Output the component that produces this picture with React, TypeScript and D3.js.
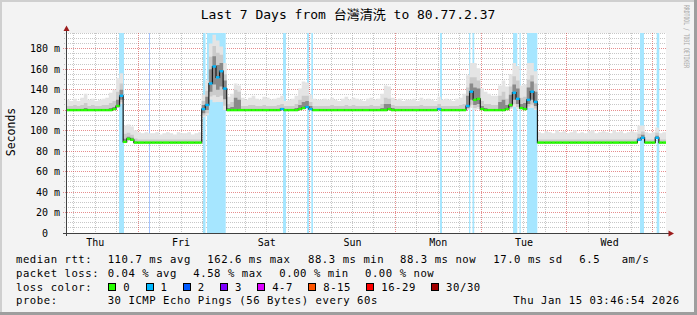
import React from 'react';
import * as d3 from 'd3';

// ---------------- data ----------------
// hourly samples over the 7 days, starting Thu Jan 8 03:46:54
const HOURS = 168;
const START_TO_MIDNIGHT = 3.7817; // hours after previous midnight at graph start
const Y_MAX = 195.3;

const dayLabels = ['Thu', 'Fri', 'Sat', 'Sun', 'Mon', 'Tue', 'Wed'];
const yMajorTicks = [20, 40, 60, 80, 100, 120, 140, 160, 180];
const yLabelTicks = [0, 20, 40, 60, 80, 100, 120, 140, 160, 180];
const yTickLabels = ['0\u00a0\u00a0', '20 m', '40 m', '60 m', '80 m', '100 m', '120 m', '140 m', '160 m', '180 m'];

// median rtt (ms)
const median = [
  120, 120, 120, 120, 120, 120, 120, 120, 120, 120, 120, 120, 120, 121, 124, 134, 89, 92, 91, 88.3, 88.3, 88.3, 88.3, 88.3,
  88.3, 88.3, 88.3, 88.3, 88.3, 88.3, 88.3, 88.3, 88.3, 88.3, 88.3, 88.3, 88.3, 88.3, 121, 125, 146, 162.6, 152, 158, 141, 120, 120, 120,
  120, 120, 120, 120, 120, 120, 120, 120, 120, 120, 120, 120, 121, 120, 120, 120, 120, 121, 122, 123, 121, 120, 120, 120,
  120, 120, 120, 120, 120, 120, 120, 120, 120, 120, 120, 120, 120, 120, 120, 120, 120, 120, 121, 120, 120, 120, 120, 120,
  120, 120, 120, 120, 120, 120, 120, 120, 121, 120, 120, 120, 120, 120, 120, 120, 124, 138, 130, 131, 121, 120, 120, 120,
  120, 120, 120, 121, 125, 137, 131, 122, 121, 130, 138, 128, 88.3, 88.3, 88.3, 88.3, 88.3, 88.3, 88.3, 88.3, 88.3, 88.3, 88.3, 88.3,
  88.3, 88.3, 88.3, 88.3, 88.3, 88.3, 88.3, 88.3, 88.3, 88.3, 88.3, 88.3, 88.3, 88.3, 88.3, 88.3, 91, 93, 88.3, 88.3, 88.3, 93, 88.3, 88.3,
];

// lost pings per sample (of 30)
const lossCount = [
  0, 0, 0, 0, 0, 0, 0, 0, 0, 0, 0, 0, 0, 0, 0, 1, 0, 0, 0, 0, 0, 0, 0, 0,
  0, 0, 0, 0, 0, 0, 0, 0, 0, 0, 0, 0, 0, 0, 1, 1, 1, 1, 1, 1, 1, 0, 0, 0,
  0, 0, 0, 0, 0, 0, 0, 0, 0, 0, 0, 0, 1, 0, 0, 0, 0, 0, 0, 1, 1, 0, 0, 0,
  0, 0, 0, 0, 0, 0, 0, 0, 0, 0, 0, 0, 0, 0, 0, 0, 0, 0, 0, 0, 0, 0, 0, 0,
  0, 0, 0, 0, 0, 0, 0, 0, 1, 0, 0, 0, 0, 0, 0, 0, 1, 1, 0, 0, 0, 0, 0, 0,
  0, 0, 0, 0, 0, 1, 1, 0, 0, 1, 1, 1, 0, 0, 0, 0, 0, 0, 0, 0, 0, 0, 0, 0,
  0, 0, 0, 0, 0, 0, 0, 0, 0, 0, 0, 0, 0, 0, 0, 0, 1, 1, 0, 0, 0, 1, 0, 0,
];

// smoke: spread above the median (ms) for the light, medium and dark layers
const smokeUp = [
  10, 9, 11, 9, 12, 16, 10, 11, 9, 10, 11, 12, 17, 19, 27, 22, 16, 14, 13, 12, 10, 9, 10, 9,
  9, 10, 8, 9, 10, 9, 8, 10, 9, 9, 10, 8, 9, 10, 14, 24, 39, 31, 36, 24, 25, 13, 16, 26,
  24, 12, 10, 12, 14, 11, 10, 13, 12, 10, 11, 12, 13, 9, 10, 11, 14, 20, 26, 24, 14, 11, 10, 10,
  11, 10, 12, 10, 9, 11, 13, 10, 12, 11, 10, 9, 11, 12, 10, 11, 16, 24, 22, 12, 10, 11, 9, 10,
  10, 11, 9, 12, 10, 11, 10, 9, 12, 10, 11, 10, 9, 11, 12, 16, 30, 28, 36, 30, 20, 18, 16, 14,
  14, 24, 29, 22, 30, 29, 32, 22, 24, 36, 28, 30, 10, 9, 11, 10, 9, 12, 10, 11, 9, 10, 12, 9,
  10, 9, 11, 12, 9, 10, 11, 10, 9, 12, 10, 11, 9, 10, 11, 10, 14, 12, 10, 9, 10, 10, 9, 10,
];
const smokeMid = [
  4, 4, 5, 4, 5, 7, 4, 5, 4, 4, 5, 5, 7, 8, 14, 12, 8, 6, 5, 4, 3, 3, 3, 3,
  3, 3, 3, 3, 3, 3, 3, 3, 3, 3, 3, 3, 3, 3, 8, 14, 26, 20, 24, 16, 14, 6, 8, 20,
  18, 4, 4, 5, 5, 4, 4, 5, 4, 4, 4, 5, 5, 4, 4, 4, 6, 9, 12, 11, 7, 4, 4, 4,
  4, 4, 5, 4, 4, 4, 5, 4, 5, 4, 4, 4, 4, 5, 4, 4, 6, 12, 10, 5, 4, 4, 4, 4,
  4, 4, 4, 5, 4, 4, 4, 4, 5, 4, 4, 4, 4, 4, 5, 6, 18, 14, 22, 18, 8, 6, 6, 5,
  5, 14, 18, 10, 18, 16, 18, 10, 12, 20, 16, 18, 3, 3, 3, 3, 3, 3, 3, 3, 3, 3, 3, 3,
  3, 3, 3, 3, 3, 3, 3, 3, 3, 3, 3, 3, 3, 3, 3, 3, 6, 6, 3, 3, 3, 5, 3, 3,
];
const smokeDark = [
  1, 1, 1, 1, 1, 2, 1, 1, 1, 1, 1, 1, 2, 2, 6, 6, 3, 2, 2, 1, 0, 0, 0, 0,
  0, 0, 0, 0, 0, 0, 0, 0, 0, 0, 0, 0, 0, 0, 4, 8, 14, 10, 12, 8, 8, 2, 3, 12,
  10, 1, 1, 1, 1, 1, 1, 1, 1, 1, 1, 1, 1, 1, 1, 1, 2, 4, 6, 6, 3, 1, 1, 1,
  1, 1, 1, 1, 1, 1, 1, 1, 1, 1, 1, 1, 1, 1, 1, 1, 2, 6, 5, 2, 1, 1, 1, 1,
  1, 1, 1, 1, 1, 1, 1, 1, 1, 1, 1, 1, 1, 1, 1, 1, 10, 8, 12, 10, 3, 2, 1, 1,
  1, 8, 10, 4, 10, 8, 10, 4, 6, 12, 10, 10, 0, 0, 0, 0, 0, 0, 0, 0, 0, 0, 0, 0,
  0, 0, 0, 0, 0, 0, 0, 0, 0, 0, 0, 0, 0, 0, 0, 0, 2, 3, 0, 0, 0, 2, 0, 0,
];
// smoke spread below the median (ms)
const smokeDown = [
  0.5, 0.5, 0.5, 0.5, 0.5, 0.5, 0.5, 0.5, 0.5, 0.5, 0.5, 0.5, 0.5, 0.5, 2, 8, 1, 1, 1, 0.5, 0.5, 0.5, 0.5, 0.5,
  0.5, 0.5, 0.5, 0.5, 0.5, 0.5, 0.5, 0.5, 0.5, 0.5, 0.5, 0.5, 0.5, 0.5, 8, 10, 16, 35, 24, 30, 21, 1, 0.5, 0.5,
  0.5, 0.5, 0.5, 0.5, 0.5, 0.5, 0.5, 0.5, 0.5, 0.5, 0.5, 0.5, 0.5, 0.5, 0.5, 0.5, 0.5, 0.5, 0.5, 0.5, 0.5, 0.5, 0.5, 0.5,
  0.5, 0.5, 0.5, 0.5, 0.5, 0.5, 0.5, 0.5, 0.5, 0.5, 0.5, 0.5, 0.5, 0.5, 0.5, 0.5, 0.5, 0.5, 0.5, 0.5, 0.5, 0.5, 0.5, 0.5,
  0.5, 0.5, 0.5, 0.5, 0.5, 0.5, 0.5, 0.5, 0.5, 0.5, 0.5, 0.5, 0.5, 0.5, 0.5, 0.5, 4, 16, 10, 10, 1, 0.5, 0.5, 0.5,
  0.5, 0.5, 0.5, 0.5, 4, 14, 10, 1, 0.5, 8, 16, 8, 0.5, 0.5, 0.5, 0.5, 0.5, 0.5, 0.5, 0.5, 0.5, 0.5, 0.5, 0.5,
  0.5, 0.5, 0.5, 0.5, 0.5, 0.5, 0.5, 0.5, 0.5, 0.5, 0.5, 0.5, 0.5, 0.5, 0.5, 0.5, 0.5, 2, 0.5, 0.5, 0.5, 0.5, 0.5, 0.5,
];

// loss background bands: start / end in hours since graph start, and loss bucket
const lossBandStart = [14.84, 23.24, 38.36, 39.48, 60.76, 67.48, 68.68, 104.72, 112.84, 113.82, 125.16, 126.98, 129.08, 160.72, 165.4];
const lossBandEnd = [16.24, 23.52, 39.06, 44.72, 61.6, 68.04, 69.16, 105.28, 113.2, 114.3, 126.36, 127.32, 131.96, 161.84, 166.12];
const lossBandLevel = [1, 2, 1, 1, 1, 1, 1, 1, 1, 1, 1, 1, 1, 1, 1];

const lossColors = ['#26ff00', '#00b8ff', '#0059ff', '#7e00ff', '#dd00ff', '#ff5500', '#ff0000', '#a10000'];
const lossLabels = ['0', '1', '2', '3', '4-7', '8-15', '16-29', '30/30'];

const legendRtt = ['110.7 ms avg', '162.6 ms max', '88.3 ms min', '88.3 ms now', '17.0 ms sd', '6.5', 'am/s'];
const legendLoss = ['0.04 % avg', '4.58 % max', '0.00 % min', '0.00 % now'];
const probeText = '30 ICMP Echo Pings (56 Bytes) every 60s';
const stampText = 'Thu Jan 15 03:46:54 2026';

// ---------------- layout ----------------
const W = 697, H = 315;
const L = 66, R = 666, T = 33, B = 233;
const MONO = "'DejaVu Sans Mono', 'Noto Sans CJK TC', monospace";
const CH = 6.92; // legend char advance
const rttX = [107.7, 207.3, 308, 400, 493.3, 579.3, 621.7];
const lossX = [107.7, 193.3, 279.3, 365];

function bucket(n: number) {
  if (n <= 3) return n;
  if (n <= 7) return 4;
  if (n <= 15) return 5;
  if (n <= 29) return 6;
  return 7;
}

export default function App() {
  const x = d3.scaleLinear().domain([0, HOURS]).range([L, R]);
  const y = d3.scaleLinear().domain([0, Y_MAX]).range([B, T]);
  const idx = d3.range(HOURS + 1);
  const v = (arr: number[], i: number) => arr[Math.min(i, HOURS - 1)];

  const smokeArea = (top: number[], below: (i: number) => number) =>
    d3.area<number>()
      .x((i) => x(i))
      .y0((i) => y(v(median, i) - below(i)))
      .y1((i) => y(v(median, i) + v(top, i)))
      .curve(d3.curveStepAfter)(idx) || '';

  const medianPath = d3.line<number>().x((i) => x(i)).y((i) => y(v(median, i))).curve(d3.curveStepAfter)(idx) || '';

  // grid
  const minorY = d3.range(5, 196, 5).filter((t) => t % 20 !== 0);
  const dayStarts = d3.range(0, 7).map((k) => 24 - START_TO_MIDNIGHT + 24 * k);
  const minorX = d3.range(-10, 40).map((k) => 6 * k - START_TO_MIDNIGHT).filter((h) => h > 0 && h < HOURS && Math.abs(((h + START_TO_MIDNIGHT) % 24)) > 0.01);
  const labelX = d3.range(0, 7).map((k) => 12 - START_TO_MIDNIGHT + 24 * k);
  const px = (n: number) => Math.floor(n) + 0.5;

  const minorGrid = 'rgba(130,130,130,0.45)';
  const majorGrid = 'rgba(210,50,50,0.55)';

  // legend boxes layout
  const boxX: number[] = [];
  let bx = 108.3;
  lossLabels.forEach((lab) => {
    boxX.push(bx);
    bx = bx + 15 + lab.length * CH + 15.3;
  });

  const textStyle: React.CSSProperties = { fontFamily: MONO, fontSize: 10.6, letterSpacing: 0.55 };

  return (
    <svg width={W} height={H} viewBox={`0 0 ${W} ${H}`} style={{ display: 'block', position: 'absolute', left: 0, top: 0 }}>
      <rect x={0} y={0} width={W} height={H} fill="#f3f3f3" />
      <path d={`M0 0 H${W} V2 H2 V${H} H0 Z`} fill="#cfcfcf" />
      <path d={`M${W} ${H} H0 V${H - 3} H${W - 3} V0 H${W} Z`} fill="#9e9e9e" />

      {/* canvas */}
      <rect x={L} y={T} width={R - L} height={B - T} fill="#ffffff" />

      {/* grid */}
      <g shapeRendering="crispEdges" strokeDasharray="1,1" strokeWidth={1}>
        {minorY.map((t) => (
          <line key={'my' + t} x1={L - 2} x2={R} y1={px(y(t))} y2={px(y(t))} stroke={minorGrid} />
        ))}
        {minorX.map((h) => (
          <line key={'mx' + h} x1={px(x(h))} x2={px(x(h))} y1={T} y2={B} stroke={minorGrid} />
        ))}
        {yMajorTicks.map((t) => (
          <line key={'My' + t} x1={L - 3} x2={R} y1={px(y(t))} y2={px(y(t))} stroke={majorGrid} />
        ))}
        {dayStarts.map((h) => (
          <line key={'Mx' + h} x1={px(x(h))} x2={px(x(h))} y1={T} y2={B + 2} stroke={majorGrid} />
        ))}
      </g>

      {/* loss bands */}
      {lossBandStart.map((s, k) => (
        <rect key={'lb' + k} x={x(s)} y={T} width={Math.max(1, x(lossBandEnd[k]) - x(s))} height={B - T}
          fill={d3.interpolateRgb('#ffffff', lossColors[lossBandLevel[k]])(0.35)} />
      ))}

      {/* smoke */}
      <path d={smokeArea(smokeUp, (i) => v(smokeDown, i))} fill="#e4e4e4" />
      <path d={smokeArea(smokeMid, (i) => v(smokeDown, i) * 0.8)} fill="#cbcbcb" />
      <path d={smokeArea(smokeDark, (i) => v(smokeDown, i) * 0.5)} fill="#8a8a8a" />

      {/* median */}
      <path d={medianPath} fill="none" stroke="#1a1a1a" strokeWidth={1.2} />
      {median.map((m, i) => (
        <line key={'md' + i} x1={x(i)} x2={x(i + 1)} y1={y(m)} y2={y(m)} stroke={lossColors[bucket(lossCount[i])]} strokeWidth={2.4} />
      ))}

      {/* axes */}
      <g shapeRendering="crispEdges">
        <line x1={L + 0.5} x2={L + 0.5} y1={B + 3} y2={29} stroke="#404040" />
        <line x1={L - 3} x2={669} y1={B + 0.5} y2={B + 0.5} stroke="#404040" />
      </g>
      <path d={`M${L + 0.5} 25.5 L${L + 3.5} 31 L${L - 2.5} 31 Z`} fill="#9c1c1c" />
      <path d={`M674 ${B + 0.5} L668.5 ${B - 2.5} L668.5 ${B + 3.5} Z`} fill="#9c1c1c" />

      {/* title */}
      <text x={348} y={19} textAnchor="middle" style={{ fontFamily: MONO, fontSize: 13 }} fill="#000">
        Last 7 Days from 台灣清洗 to 80.77.2.37
      </text>

      {/* y axis labels */}
      {yLabelTicks.map((t, k) => (
        <text key={'yl' + t} x={60} y={y(t) + 3.6} textAnchor="end" style={{ fontFamily: MONO, fontSize: 10, whiteSpace: 'pre' }} fill="#000">
          {yTickLabels[k]}
        </text>
      ))}
      <text transform={`translate(14.5, 132) rotate(-90)`} textAnchor="middle" style={{ fontFamily: MONO, fontSize: 11.5 }} fill="#000">
        Seconds
      </text>

      {/* x axis labels */}
      {labelX.map((h, k) => (
        <text key={'xl' + k} x={x(h)} y={245.5} textAnchor="middle" style={{ fontFamily: MONO, fontSize: 10 }} fill="#000">
          {dayLabels[k]}
        </text>
      ))}

      {/* watermark */}
      <text transform="translate(683.5, 5) rotate(90)" textLength={63} lengthAdjust="spacingAndGlyphs"
        style={{ fontFamily: MONO, fontSize: 7.5 }} fill="#a8a8a8">
        RRDTOOL / TOBI OETIKER
      </text>

      {/* legend */}
      <text x={16} y={262.7} style={textStyle}>median rtt:</text>
      {legendRtt.map((s, k) => (
        <text key={'lr' + k} x={rttX[k]} y={262.7} style={textStyle}>{s}</text>
      ))}
      <text x={16} y={276.5} style={textStyle}>packet loss:</text>
      {legendLoss.map((s, k) => (
        <text key={'ll' + k} x={lossX[k]} y={276.5} style={textStyle}>{s}</text>
      ))}
      <text x={16} y={290.5} style={textStyle}>loss color:</text>
      {lossLabels.map((lab, k) => (
        <g key={'lc' + k}>
          <rect x={Math.round(boxX[k]) + 0.5} y={283.5} width={7} height={7} fill={lossColors[k]} stroke="#000" strokeWidth={1} />
          <text x={boxX[k] + 15} y={290.5} style={textStyle}>{lab}</text>
        </g>
      ))}
      <text x={16} y={304.3} style={textStyle}>probe:</text>
      <text x={107.7} y={304.3} style={textStyle}>{probeText}</text>
      <text x={513.3} y={304.3} style={textStyle}>{stampText}</text>
    </svg>
  );
}
